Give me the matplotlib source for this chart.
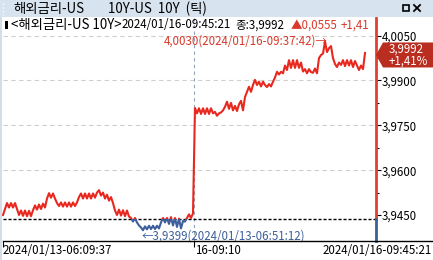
import numpy as np
import matplotlib.pyplot as plt
import matplotlib.transforms as mtransforms
from matplotlib.patches import Rectangle, Polygon
from matplotlib.lines import Line2D

plt.rcParams['font.family'] = ['Noto Sans CJK KR', 'DejaVu Sans']

# -----------------------------
# tick data (US 10Y yield)
# -----------------------------
day13 = [
    3.9450, 3.9470, 3.9490, 3.9475, 3.9490, 3.9475, 3.9490, 3.9470, 3.9450, 3.9465,
    3.9447, 3.9465, 3.9446, 3.9464, 3.9446, 3.9466, 3.9482, 3.9468, 3.9485, 3.9470,
    3.9488, 3.9475, 3.9505, 3.9523, 3.9508, 3.9522, 3.9505, 3.9490, 3.9480, 3.9492,
    3.9478, 3.9492, 3.9478, 3.9492, 3.9478, 3.9492, 3.9480, 3.9492, 3.9510, 3.9522,
    3.9505, 3.9522, 3.9505, 3.9522, 3.9505, 3.9522, 3.9508, 3.9525, 3.9533, 3.9515,
    3.9525, 3.9505, 3.9518, 3.9498, 3.9510, 3.9490, 3.9465, 3.9450, 3.9468, 3.9448,
    3.9466, 3.9446, 3.9465, 3.9445, 3.9440, 3.9428, 3.9440, 3.9425, 3.9415, 3.9408,
    3.9399, 3.9412, 3.9402, 3.9414, 3.9403, 3.9414, 3.9403, 3.9414, 3.9405, 3.9425,
    3.9440, 3.9425, 3.9440, 3.9420, 3.9443, 3.9415, 3.9440, 3.9410, 3.9438, 3.9405,
    3.9430, 3.9428, 3.9440, 3.9452, 3.9440, 3.9455,
]
day16 = [
    3.9808, 3.9790, 3.9807, 3.9788, 3.9807, 3.9788, 3.9807, 3.9788, 3.9807, 3.9790,
    3.9795, 3.9782, 3.9790, 3.9793, 3.9800, 3.9812, 3.9829, 3.9805, 3.9825, 3.9800,
    3.9815, 3.9798, 3.9820, 3.9832, 3.9800, 3.9845, 3.9862, 3.9879, 3.9862, 3.9885,
    3.9902, 3.9885, 3.9896, 3.9880, 3.9896, 3.9885, 3.9878, 3.9888, 3.9880, 3.9896,
    3.9910, 3.9929, 3.9920, 3.9929, 3.9924, 3.9950, 3.9935, 3.9968, 3.9942, 3.9968,
    3.9942, 3.9968, 3.9942, 3.9960, 3.9930, 3.9938, 3.9924, 3.9938, 3.9928, 3.9926,
    3.9940, 3.9924, 3.9975, 3.9985, 3.9990, 4.0030, 3.9995, 4.0008, 4.0015, 3.9975,
    3.9955, 3.9945, 3.9960, 3.9952, 3.9968, 3.9948, 3.9968, 3.9950, 3.9968, 3.9945,
    3.9965, 3.9950, 3.9935, 3.9950, 3.9938, 3.9992,
]
prev_close = 3.9437
change = 0.0555
change_pct = 1.41

y_ticks = [3.9450, 3.9600, 3.9750, 3.9900, 4.0050]
x_labels = ["2024/01/13-06:09:37", "16-09:10", "2024/01/16-09:45:21"]
high_time = "2024/01/16-09:37:42"
low_time = "2024/01/13-06:51:12"
last_time = "2024/01/16-09:45:21"
title = "해외금리-US"
subtitle = "10Y-US  10Y  (틱)"
name = "<해외금리-US 10Y>"

# -----------------------------
# layout helpers (pixel -> figure fraction)
# -----------------------------
W, H = 433, 260
RED = '#e8281e'
BLUE = '#3d5f9c'
FS = 8.3
FS_KR = 9.6


def fx(px):
    return px / W


def fy(py):
    return 1 - py / H


def comma(v):
    return f"{v:.4f}".replace('.', ',')


fig = plt.figure(figsize=(W / 100, H / 100), dpi=100)
fig.patch.set_facecolor('white')

ax = fig.add_axes([fx(3), fy(241), fx(376) - fx(3), fy(18) - fy(241)])
ax.set_facecolor('white')

vals = np.array(day13 + day16)
idx = np.arange(len(vals))
boundary = len(day13) - 0.5

ax.set_xlim(0, 186.5)
ax.set_ylim(3.9363, 4.0109)

# grid
for t in y_ticks[1:]:
    ax.axhline(t, color='#cfcfcf', lw=0.8, ls=(0, (4, 3)), zorder=1)
ax.axvline(boundary, color='#95a3b8', lw=0.8, ls=(0, (3, 3)), zorder=1)
ax.axhline(prev_close, color='black', lw=1.0, ls=(0, (2.2, 1.4)), zorder=2)

# line, red above previous close and blue below
red, = ax.plot(idx, vals, color=RED, lw=1.5, zorder=3)
red.set_clip_path(Rectangle((-10, prev_close), 400, 1, transform=ax.transData))
blue, = ax.plot(idx, vals, color=BLUE, lw=1.5, zorder=3)
blue.set_clip_path(Rectangle((-10, prev_close - 1), 400, 1, transform=ax.transData))

# right axis line, two colours
trans = mtransforms.blended_transform_factory(ax.transAxes, ax.transData)
ax.plot([1, 1], [prev_close, 4.0109], transform=trans, color='#e0402e', lw=2.0,
        clip_on=False, zorder=5)
ax.plot([1, 1], [3.9363, prev_close], transform=trans, color=BLUE, lw=2.0,
        clip_on=False, zorder=5)

for s in ax.spines.values():
    s.set_visible(False)

ax.yaxis.tick_right()
ax.set_yticks(y_ticks, [comma(t) for t in y_ticks])
ax.set_yticks([(a + b) / 2 for a, b in zip(y_ticks[:-1], y_ticks[1:])], minor=True)
ax.tick_params(axis='y', which='major', direction='out', length=3.5, width=0.8,
               pad=0.8, labelsize=FS)
ax.tick_params(axis='y', which='minor', direction='out', length=2.5, width=0.8)

# x ticks: marks from the axis, labels placed as text
ax.set_xticks([0, boundary], ['', ''])
ax.tick_params(axis='x', direction='out', length=4, width=0.8)
xb = mtransforms.blended_transform_factory(ax.transData, fig.transFigure)
ax.text(0, fy(250), x_labels[0], transform=xb, ha='left', va='center', fontsize=FS)
ax.text(boundary + 0.3, fy(250), x_labels[1], transform=xb, ha='left', va='center',
        fontsize=FS)
fig.text(fx(432), fy(250), x_labels[2], ha='right', va='center', fontsize=FS)

# bottom axis line across the full width
fig.add_artist(Line2D([fx(3), 1], [fy(241), fy(241)], color='black', lw=1.0))

# high / low annotations
hi = int(np.argmax(vals))
lo = int(np.argmin(vals))
ax.annotate(f"{comma(vals[hi])}({high_time})→", xy=(hi, vals[hi]), xytext=(3, 1),
            textcoords='offset pixels', ha='right', va='center', color='#d8392a',
            fontsize=FS, zorder=6)
ax.annotate(f"←{comma(vals[lo])}({low_time})", xy=(lo, vals[lo]), xytext=(-1, -6),
            textcoords='offset pixels', ha='left', va='center', color='#3d5f9c',
            fontsize=FS, zorder=6)

# header line inside the chart
ax.text(fx(11), fy(25), name, transform=fig.transFigure,
        ha='left', va='center', fontsize=FS_KR, clip_on=True)
ax.text(fx(122), fy(25), last_time, transform=fig.transFigure,
        ha='left', va='center', fontsize=FS, clip_on=True)
ax.text(fx(235), fy(25), f"종:{comma(vals[-1])}", transform=fig.transFigure,
        ha='left', va='center', fontsize=FS, clip_on=True)
ax.text(fx(291), fy(25), f"▲{comma(change)}", transform=fig.transFigure,
        ha='left', va='center', fontsize=FS, color='#d8392a', clip_on=True)
ax.text(fx(341), fy(25), f"+{change_pct:.2f}".replace('.', ','),
        transform=fig.transFigure, ha='left', va='center', fontsize=FS,
        color='#d8392a', clip_on=True)
fig.add_artist(Rectangle((fx(5), fy(29)), fx(3), 8 / H, color='black', lw=0))

# price box on the right axis
yb = (ax.transData + fig.transFigure.inverted()).transform((0, vals[-1]))[1]
hb = 12.5 / H
yc = yb - 2 / H
box = Polygon([(fx(376), yc), (fx(383), yc + hb), (1, yc + hb),
               (1, yc - hb), (fx(383), yc - hb)],
              closed=True, color='#b92e20', lw=0)
fig.add_artist(box)
fig.text(fx(406), yc + 5.5 / H, comma(vals[-1]), ha='center', va='center',
         color='white', fontsize=FS)
fig.text(fx(408), yc - 6.5 / H, f"+{change_pct:.2f}%".replace('.', ','), ha='center',
         va='center', color='white', fontsize=FS)

# window title bar
fig.add_artist(Rectangle((0, fy(17)), 1, 17 / H, color='#d7e3ee', lw=0))
fig.add_artist(Rectangle((0, 0), fx(2), fy(17), color='#d5dde6', lw=0))
fig.add_artist(Line2D([fx(3), fx(3)], [fy(3), fy(15)], color='white', lw=1, ls=':'))
fig.text(fx(13), fy(9), title, ha='left', va='center', fontsize=FS_KR)
fig.text(fx(108), fy(9), subtitle, ha='left', va='center', fontsize=FS_KR)
fig.add_artist(Rectangle((fx(403), fy(11)), fx(6), 6 / H, fill=False,
                         edgecolor='black', lw=1.2))
fig.add_artist(Line2D([fx(414), fx(420)], [fy(5), fy(11)], color='black', lw=1.3))
fig.add_artist(Line2D([fx(414), fx(420)], [fy(11), fy(5)], color='black', lw=1.3))

fig.savefig('out.png', dpi=100)
